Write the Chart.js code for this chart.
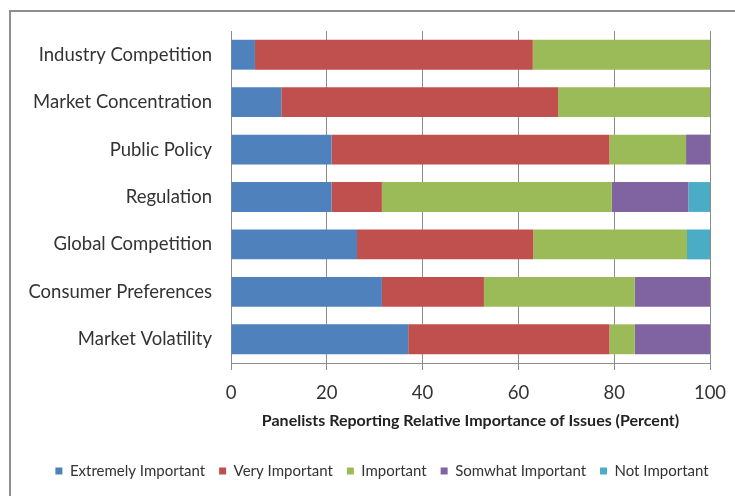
<!DOCTYPE html>
<html>
<head>
<meta charset="utf-8">
<script src="https://cdn.jsdelivr.net/npm/chart.js@4"></script>
<style>
  html, body { margin: 0; padding: 0; background: #fff; overflow: hidden; }
  canvas { display: block; }
</style>
</head>
<body>
<canvas id="chart" width="735" height="496"></canvas>
<script>
const categories = ['Industry Competition', 'Market Concentration', 'Public Policy', 'Regulation',
                    'Global Competition', 'Consumer Preferences', 'Market Volatility'];
const extremelyImportant = [5, 10.5, 21, 21, 26.3, 31.5, 37];
const veryImportant      = [58, 57.8, 58, 10.5, 36.8, 21.3, 42];
const important          = [37, 31.7, 16, 48, 32.1, 31.5, 5.3];
const somewhatImportant  = [0, 0, 5, 16, 0, 15.7, 15.7];
const notImportant       = [0, 0, 0, 4.5, 4.8, 0, 0];
const xTicks = [0, 20, 40, 60, 80, 100];

const font = "Lato, 'Open Sans', sans-serif";

// outer frame of the original chart box (only its top and left edges are in view)
const framePlugin = {
    id: 'frame',
    beforeDraw(chart) {
        const ctx = chart.ctx;
        ctx.save();
        ctx.strokeStyle = '#8f8f8f';
        ctx.lineWidth = 2;
        ctx.beginPath();
        ctx.moveTo(10, chart.height);
        ctx.lineTo(10, 11);
        ctx.lineTo(chart.width, 11);
        ctx.stroke();
        ctx.restore();
    },
};

new Chart(document.getElementById('chart'), {
    type: 'bar',
    data: {
        labels: categories,
        datasets: [
            { label: 'Extremely Important', data: extremelyImportant, backgroundColor: '#4f81bd' },
            { label: 'Very Important', data: veryImportant, backgroundColor: '#c0504d' },
            { label: 'Important', data: important, backgroundColor: '#9bbb59' },
            { label: 'Somwhat Important', data: somewhatImportant, backgroundColor: '#8064a2' },
            { label: 'Not Important', data: notImportant, backgroundColor: '#4bacc6' },
        ],
    },
    plugins: [framePlugin],
    options: {
        indexAxis: 'y',
        responsive: false,
        animation: false,
        barPercentage: 0.63,
        categoryPercentage: 1,
        layout: { padding: { top: 31, right: 0, left: 29, bottom: 7.5 } },
        plugins: {
            tooltip: { enabled: false },
            legend: {
                position: 'bottom',
                labels: {
                    boxWidth: 7,
                    boxHeight: 7,
                    padding: 14,
                    color: '#333',
                    font: { family: font, size: 15 },
                },
            },
        },
        scales: {
            x: {
                stacked: true,
                min: 0,
                max: 100,
                afterBuildTicks: (scale) => { scale.ticks = xTicks.map(v => ({ value: v })); },
                grid: { color: '#8c8c8c', lineWidth: 1, tickLength: 7 },
                border: { color: '#8c8c8c' },
                ticks: { color: '#333', padding: 12, font: { family: font, size: 18.5 } },
                title: {
                    display: true,
                    text: 'Panelists Reporting Relative Importance of Issues (Percent)',
                    color: '#222',
                    font: { family: font, size: 16, weight: 'bold' },
                    padding: { top: 4, bottom: 19 },
                },
                afterFit: (scale) => { scale.height = 86.5; scale.paddingRight = 25; },
            },
            y: {
                stacked: true,
                grid: { display: false, drawTicks: false },
                border: { display: true, color: '#8c8c8c' },
                ticks: { color: '#333', padding: 19, font: { family: font, size: 18.5 } },
                afterFit: (scale) => { scale.width = 202; },
            },
        },
    },
});
</script>
</body>
</html>
